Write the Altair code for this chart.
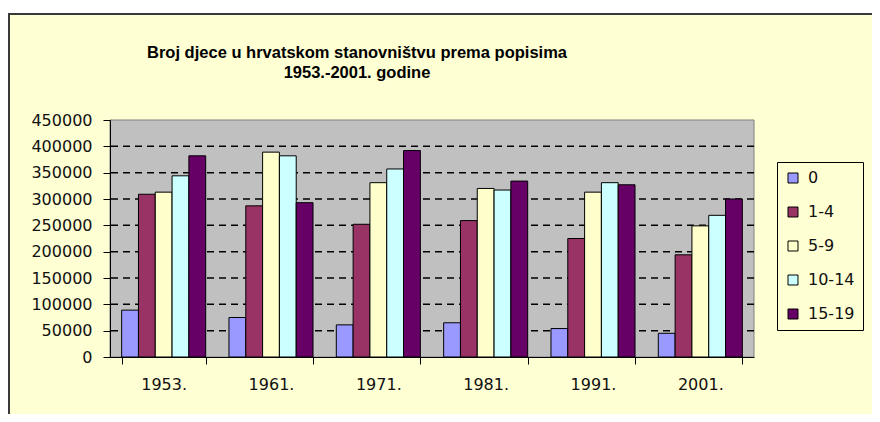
import altair as alt
import pandas as pd

years = ["1953.", "1961.", "1971.", "1981.", "1991.", "2001."]
groups = ["0", "1-4", "5-9", "10-14", "15-19"]
v_0 = [89000, 75000, 61000, 65000, 54000, 45000]
v_1_4 = [309000, 287000, 252000, 259000, 225000, 194000]
v_5_9 = [313000, 389000, 331000, 320000, 313000, 249000]
v_10_14 = [344000, 382000, 357000, 317000, 331000, 269000]
v_15_19 = [382000, 293000, 392000, 334000, 327000, 300000]
colors = ["#9999FF", "#993366", "#FFFFCC", "#CCFFFF", "#660066"]
y_ticks = list(range(0, 450001, 50000))
grid_values = y_ticks[1:-1]
title_lines = ["Broj djece u hrvatskom stanovništvu prema popisima", "1953.-2001. godine"]

series = [v_0, v_1_4, v_5_9, v_10_14, v_15_19]
rows = []
for g, vals in zip(groups, series):
    for yr, v in zip(years, vals):
        rows.append({"year": yr, "group": g, "value": v})
df = pd.DataFrame(rows)

W, H = 644, 237
BG = "#FFFFD4"
yscale = alt.Scale(domain=[0, 450000], nice=False)
yaxis = alt.Axis(title=None, values=y_ticks, format="d", tickSize=7, labelPadding=11,
                 labelFont="DejaVu Sans", labelFontSize=16, labelColor="#111",
                 domainColor="black", tickColor="black", zindex=1, grid=False)

one = pd.DataFrame({"k": [0]})
white_strip = alt.Chart(one).mark_rect(fill="white").encode(
    x=alt.value(-110), x2=alt.value(W + 200), y=alt.value(-120), y2=alt.value(-107)
)
white_left = alt.Chart(one).mark_rect(fill="white").encode(
    x=alt.value(-110), x2=alt.value(-102), y=alt.value(-120), y2=alt.value(H + 200)
)
border_left = alt.Chart(one).mark_rule(color="#3a3a3a", strokeWidth=2).encode(
    x=alt.value(-101), y=alt.value(-107), y2=alt.value(H + 200)
)
border_top = alt.Chart(one).mark_rule(color="#3a3a3a", strokeWidth=2).encode(
    x=alt.value(-102), x2=alt.value(W + 200), y=alt.value(-106)
)
plotbg = alt.Chart(one).mark_rect(fill="#C0C0C0", stroke="#808080", strokeWidth=1).encode(
    x=alt.value(0), x2=alt.value(W), y=alt.value(0), y2=alt.value(H)
)
title = alt.Chart(one).mark_text(
    font="Liberation Sans", fontWeight="bold", fontSize=16.5, lineHeight=20,
    baseline="top", align="center", color="black"
).encode(x=alt.value(W / 2 - 75), y=alt.value(-75), text=alt.value(title_lines))

grid = alt.Chart(pd.DataFrame({"g": grid_values})).mark_rule(
    color="black", strokeDash=[7, 5], strokeWidth=1.5
).encode(y=alt.Y("g:Q", scale=yscale, axis=yaxis))

bars = alt.Chart(df).mark_bar(stroke="black", strokeWidth=1).encode(
    x=alt.X(
        "year:N", sort=years,
        scale=alt.Scale(paddingInner=0.217, paddingOuter=0.1085),
        axis=alt.Axis(title=None, labelAngle=0, tickBand="extent", tickSize=7,
                      labelPadding=12, labelFont="DejaVu Sans", labelFontSize=16,
                      labelColor="#111", domainColor="black", tickColor="black",
                      zindex=1, grid=False),
    ),
    xOffset=alt.XOffset("group:N", sort=groups, scale=alt.Scale(paddingInner=0, paddingOuter=0)),
    y=alt.Y("value:Q", scale=yscale, axis=yaxis),
    color=alt.Color(
        "group:N", sort=groups,
        scale=alt.Scale(domain=groups, range=colors),
        legend=alt.Legend(title=None, orient="none", legendX=667, legendY=42,
                          padding=8, strokeColor="black", fillColor=BG,
                          labelFont="DejaVu Sans", labelFontSize=16, labelColor="#111",
                          symbolType="square", symbolSize=100,
                          symbolStrokeColor="black", symbolStrokeWidth=1,
                          rowPadding=18, labelOffset=7),
    ),
)

chart = alt.layer(white_strip, white_left, border_left, border_top, plotbg, title, grid, bars).properties(
    width=W, height=H,
    autosize=alt.AutoSizeParams(type="none"),
    padding={"left": 102, "top": 112, "right": 118, "bottom": 57},
    background=BG,
).configure_view(stroke=None)

chart.save("out.html", embed_options={"renderer": "svg", "actions": False})
